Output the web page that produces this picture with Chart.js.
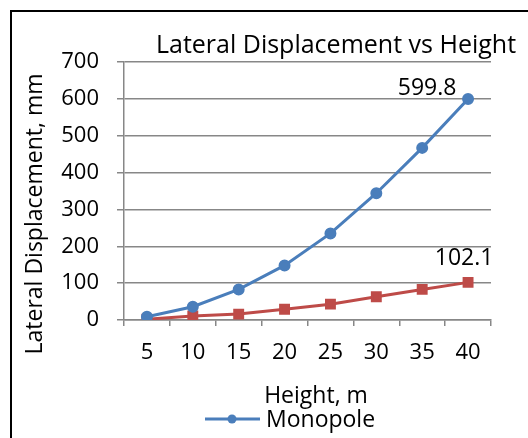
<!DOCTYPE html>
<html>
<head>
<meta charset="utf-8">
<script src="https://cdn.jsdelivr.net/npm/chart.js@4.4.1/dist/chart.umd.min.js"></script>
<style>
  html, body { margin: 0; padding: 0; background: #fff; overflow: hidden; }
  canvas { display: block; }
</style>
</head>
<body>
<canvas id="displacementChart" width="528" height="438"></canvas>
<script>
// data
const heights = ['5', '10', '15', '20', '25', '30', '35', '40'];
const monopoleValues = [9, 36, 83, 148, 235, 344, 467, 599.8];
const series2Values = [2, 11, 16, 29, 43, 63, 83, 102.1];
const yTicks = [0, 100, 200, 300, 400, 500, 600, 700];

const chartTitle = 'Lateral Displacement vs Height';
const yTitle = 'Lateral Displacement, mm';
const xTitle = 'Height, m';

const FONT = '"Open Sans", sans-serif';
const blue = '#4a7ebb';
const red = '#be4b48';
const gridColor = '#878787';

// Excel-like frame, titles, legend and end labels
const excelText = {
    id: 'excelText',
    beforeDraw(chart) {
        const ctx = chart.ctx;
        ctx.save();
        ctx.fillStyle = '#fff';
        ctx.fillRect(0, 0, chart.width, chart.height);
        ctx.strokeStyle = '#000';
        ctx.lineWidth = 2;
        ctx.strokeRect(11, 11, chart.width + 20, chart.height + 20);
        ctx.restore();
    },
    afterDraw(chart) {
        const ctx = chart.ctx;
        ctx.save();
        ctx.fillStyle = '#000';
        ctx.textBaseline = 'alphabetic';

        ctx.font = '25px ' + FONT;
        ctx.textAlign = 'center';
        ctx.fillText(chartTitle, 336, 53);

        ctx.font = '23px ' + FONT;
        ctx.fillText(xTitle, 316, 403);

        ctx.save();
        ctx.translate(42, 214);
        ctx.rotate(-Math.PI / 2);
        ctx.fillText(yTitle, 0, 0);
        ctx.restore();

        // legend (first series only, as in the cropped original)
        const ds = chart.data.datasets[0];
        ctx.strokeStyle = ds.borderColor;
        ctx.lineWidth = 3;
        ctx.beginPath();
        ctx.moveTo(205, 419);
        ctx.lineTo(260, 419);
        ctx.stroke();
        ctx.fillStyle = ds.borderColor;
        ctx.beginPath();
        ctx.arc(232, 419, 4.5, 0, Math.PI * 2);
        ctx.fill();
        ctx.fillStyle = '#000';
        ctx.textAlign = 'left';
        ctx.fillText(ds.label, 266, 427);

        // value labels on the last points
        ctx.textAlign = 'center';
        const m0 = chart.getDatasetMeta(0).data;
        const p0 = m0[m0.length - 1];
        ctx.fillText(String(monopoleValues[monopoleValues.length - 1]), p0.x - 41, p0.y - 4);
        const m1 = chart.getDatasetMeta(1).data;
        const p1 = m1[m1.length - 1];
        ctx.fillText(String(series2Values[series2Values.length - 1]), p1.x - 4, p1.y - 17);
        ctx.restore();
    }
};

const ctx = document.getElementById('displacementChart').getContext('2d');
new Chart(ctx, {
    type: 'line',
    data: {
        labels: heights,
        datasets: [
            {
                label: 'Monopole',
                data: monopoleValues,
                borderColor: blue,
                backgroundColor: blue,
                borderWidth: 3,
                pointRadius: 4.5,
                pointStyle: 'circle',
                tension: 0
            },
            {
                label: 'Series2',
                data: series2Values,
                borderColor: red,
                backgroundColor: red,
                borderWidth: 3,
                pointRadius: 5.6,
                pointStyle: 'rect',
                tension: 0
            }
        ]
    },
    options: {
        responsive: false,
        animation: false,
        devicePixelRatio: 1,
        layout: {
            padding: { left: 10, top: 62, right: 37, bottom: 68 }
        },
        plugins: {
            legend: { display: false },
            title: { display: false },
            tooltip: { enabled: false }
        },
        scales: {
            x: {
                offset: true,
                grid: {
                    offset: true,
                    drawOnChartArea: false,
                    drawTicks: true,
                    tickLength: 6,
                    color: gridColor,
                    lineWidth: 1.5
                },
                border: { display: true, color: gridColor, width: 1.5 },
                ticks: {
                    color: '#000',
                    font: { family: FONT, size: 22 },
                    padding: 14,
                    maxRotation: 0
                },
                afterFit(scale) { scale.height = 50; }
            },
            y: {
                min: 0,
                max: 700,
                afterBuildTicks(scale) {
                    scale.ticks = yTicks.map(v => ({ value: v }));
                },
                grid: {
                    drawTicks: true,
                    tickLength: 7,
                    color: gridColor,
                    lineWidth: 1.5
                },
                border: { display: true, color: gridColor, width: 1.5 },
                ticks: {
                    color: '#000',
                    font: { family: FONT, size: 22 },
                    padding: 18
                },
                afterFit(scale) { scale.width = 114; }
            }
        }
    },
    plugins: [excelText]
});
</script>
</body>
</html>
